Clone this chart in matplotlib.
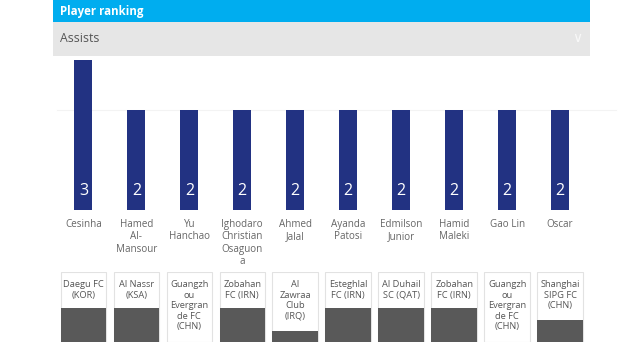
import matplotlib.pyplot as plt
from matplotlib.patches import Rectangle

players = ['Cesinha', 'Hamed\nAl-\nMansour', 'Yu\nHanchao', 'Ighodaro\nChristian\nOsaguon\na',
           'Ahmed\nJalal', 'Ayanda\nPatosi', 'Edmilson\nJunior', 'Hamid\nMaleki', 'Gao Lin', 'Oscar']
assists = [3, 2, 2, 2, 2, 2, 2, 2, 2, 2]
clubs = ['Daegu FC\n(KOR)', 'Al Nassr\n(KSA)', 'Guangzh\nou\nEvergran\nde FC\n(CHN)', 'Zobahan\nFC (IRN)',
         'Al\nZawraa\nClub\n(IRQ)', 'Esteghlal\nFC (IRN)', 'Al Duhail\nSC (QAT)', 'Zobahan\nFC (IRN)',
         'Guangzh\nou\nEvergran\nde FC\n(CHN)', 'Shanghai\nSIPG FC\n(CHN)']
# grey placeholder fill of each club box (fraction of box height)
club_fill = [0.49, 0.49, 0.0, 0.49, 0.16, 0.49, 0.49, 0.49, 0.0, 0.31]

plt.rcParams['font.family'] = ['Open Sans', 'DejaVu Sans']

W, H = 640, 355
fig = plt.figure(figsize=(W / 100, H / 100), dpi=100)
fig.patch.set_facecolor('white')


def fr(x0, y0, x1, y1):
    # pixel box (top-left origin) -> figure fraction rect
    return [x0 / W, 1 - y1 / H, (x1 - x0) / W, (y1 - y0) / H]


# header bands
b = fr(53, 0, 590, 22)
fig.patches.append(Rectangle((b[0], b[1]), b[2], b[3], transform=fig.transFigure,
                             facecolor='#00adef', edgecolor='none'))
g = fr(53, 22, 590, 56)
fig.patches.append(Rectangle((g[0], g[1]), g[2], g[3], transform=fig.transFigure,
                             facecolor='#e6e6e6', edgecolor='none'))
fig.text(60 / W, 1 - 11 / H, 'Player ranking', color='white', fontsize=8.3, fontweight='bold',
         va='center', ha='left')
fig.text(60 / W, 1 - 39 / H, 'Assists', color='#555555', fontsize=8.8, va='center', ha='left')
fig.text(577 / W, 1 - 38 / H, '\u2228', color='#f8f8f8', fontsize=10, va='center', ha='center')

# bar chart
x = list(range(len(players)))
ax = fig.add_axes(fr(56.9, 60, 586.6, 210))
ax.set_xlim(-0.5, 9.5)
ax.set_ylim(0, 3)
ax.axhline(2, color='#f3f3f3', lw=0.8, xmax=1.055, clip_on=False, zorder=0)
ax.bar(x, assists, width=0.34, color='#223282', zorder=2)
for i, v in enumerate(assists):
    ax.annotate(str(v), (i, 0), xytext=(0, 13.5), textcoords='offset points',
                ha='center', va='center', color='white', fontsize=11.5)
ax.set_xticks(x)
ax.set_xticklabels(players, fontsize=7.1, color='#666666', linespacing=1.18)
ax.tick_params(axis='x', length=0, pad=6.5)
ax.set_yticks([])
for s in ax.spines.values():
    s.set_visible(False)

# club boxes
cx = fig.add_axes(fr(56.9, 272, 586.6, 342))
cx.set_xlim(-0.5, 9.5)
cx.set_ylim(0, 1)
cx.bar(x, [1] * len(x), width=0.86, color='white', edgecolor='#e2e2e2', linewidth=0.8)
cx.bar(x, club_fill, width=0.86, color='#595959', edgecolor='none')
for i, c in enumerate(clubs):
    cx.text(i, 0.88, c, ha='center', va='top', fontsize=6.7, color='#555555', linespacing=1.2)
cx.axis('off')

fig.savefig('out.png', dpi=100)
